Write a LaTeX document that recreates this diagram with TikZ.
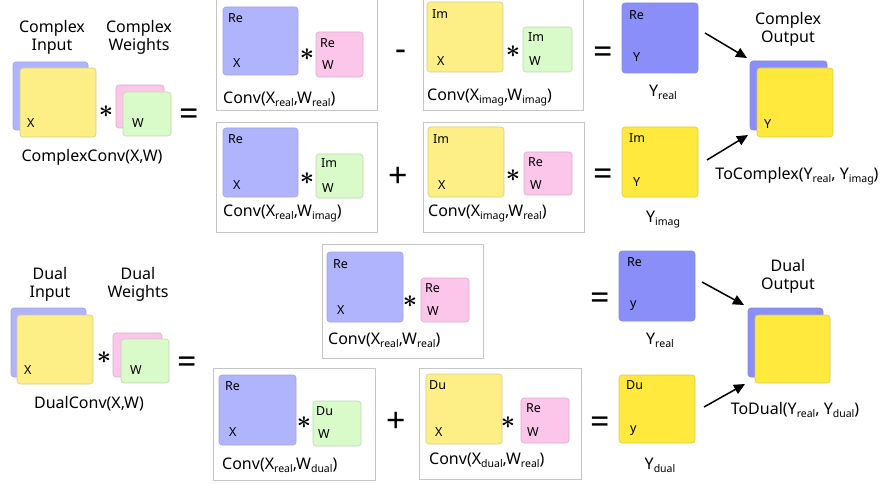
\documentclass[tikz,border=0pt]{standalone}
\usepackage{fontspec}
\usepackage{amsmath}
\setmainfont{Noto Sans}
\usetikzlibrary{arrows.meta,calc}

\definecolor{inblue}{HTML}{B0B4FC}
\definecolor{outblue}{HTML}{8A8EF8}
\definecolor{inyel}{HTML}{FDEE86}
\definecolor{outyel}{HTML}{FEE93C}
\definecolor{wpink}{HTML}{FCC5EA}
\definecolor{wgreen}{HTML}{D9FBC9}

% bold lowered subscript used in the captions
\newcommand\sbf[1]{\raisebox{-3pt}{\fontsize{10.5}{10.5}\selectfont\bfseries #1}}
\newcommand\convstar{$\boldsymbol{\ast}$}

\begin{document}
\begin{tikzpicture}[x=1pt,y=-1pt,
  tile/.style={rectangle, rounded corners=3pt, anchor=north west, inner sep=0pt,
               outer sep=0pt, line width=0.6pt, fill=#1, draw=#1!70!gray},
  frame/.style={rectangle, anchor=north west, inner sep=0pt, draw=gray!45, line width=0.7pt},
  head/.style={align=center, inner sep=0pt, font=\fontsize{16}{18}\selectfont},
  captxt/.style={inner sep=0pt, font=\fontsize{16}{18}\selectfont},
  tt/.style={inner sep=0pt, anchor=west, font=\fontsize{12.5}{13}\selectfont},
  oper/.style={inner sep=0pt, font=\fontsize{34}{34}\selectfont\bfseries},
  startxt/.style={inner sep=0pt, font=\fontsize{24}{24}\selectfont},
  arr/.style={line width=1.5pt, -{Triangle[length=11pt,width=10pt]}}
]
\useasboundingbox (0,0) rectangle (881,484);

% ================= complex convolution =================
\node[head] (hcin) at (52,37) {Complex\\Input};
\node[head] (hcw) at (139,37) {Complex\\Weights};
\node[tile=inblue, minimum width=75pt, minimum height=68pt] (cinb) at (13,62) {};
\node[tile=inyel, minimum width=76pt, minimum height=69pt] (ciny) at (20,68) {};
\node[tt] (cinx) at ($(ciny.south west)+(7,-14)$) {X};
\node[startxt] (cs0) at (106,112) {\convstar};
\node[tile=wpink, minimum width=48pt, minimum height=43pt] (cwp) at (116,85) {};
\node[tile=wgreen, minimum width=48pt, minimum height=44pt] (cwg) at (123,92) {};
\node[tt] (cwx) at ($(cwg.south west)+(9,-13)$) {W};
\node[oper] (ceq0) at (189,117) {=};
\node[captxt] (ccap) at (92,157) {ComplexConv(X,W)};

% Conv(Xreal, Wreal)
\node[frame, minimum width=161pt, minimum height=111pt] (fA) at (216,-1) {};
\node[tile=inblue, minimum width=75pt, minimum height=68pt] (tA1) at (223,7) {};
\node[tt] at ($(tA1.north west)+(5,11)$) {Re};
\node[tt] at ($(tA1.south west)+(10,-12)$) {X};
\node[startxt] (sA) at (307,55) {\convstar};
\node[tile=wpink, minimum width=47pt, minimum height=45pt] (tA2) at (316,32) {};
\node[tt] at ($(tA2.north west)+(4,11)$) {Re};
\node[tt] at ($(tA2.south west)+(6,-12)$) {W};
\node[captxt, anchor=west] (cA) at (223,99) {Conv(X\sbf{real},W\sbf{real})};
\node[oper] (mA) at (401,55) {-};

% Conv(Ximag, Wimag)
\node[frame, minimum width=160pt, minimum height=111pt] (fB) at (423,-1) {};
\node[tile=inyel, minimum width=76pt, minimum height=70pt] (tB1) at (427,2) {};
\node[tt] at ($(tB1.north west)+(5,12)$) {Im};
\node[tt] at ($(tB1.south west)+(10,-11)$) {X};
\node[startxt] (sB) at (513,52) {\convstar};
\node[tile=wgreen, minimum width=49pt, minimum height=45pt] (tB2) at (523,27) {};
\node[tt] at ($(tB2.north west)+(5,10)$) {Im};
\node[tt] at ($(tB2.south west)+(6,-11)$) {W};
\node[captxt, anchor=west] (cB) at (427,97) {Conv(X\sbf{imag},W\sbf{imag})};
\node[oper] (eA) at (603,55) {=};

% real output
\node[tile=outblue, minimum width=76pt, minimum height=70pt] (yr1) at (622,3) {};
\node[tt] at ($(yr1.north west)+(7,12)$) {Re};
\node[tt] at ($(yr1.south west)+(11,-16)$) {Y};
\node[captxt] (lyr1) at (663,92) {Y\sbf{real}};

% Conv(Xreal, Wimag)
\node[frame, minimum width=161pt, minimum height=110pt] (fC) at (216,122) {};
\node[tile=inblue, minimum width=75pt, minimum height=69pt] (tC1) at (223,128) {};
\node[tt] at ($(tC1.north west)+(5,11)$) {Re};
\node[tt] at ($(tC1.south west)+(10,-12)$) {X};
\node[startxt] (sC) at (307,179) {\convstar};
\node[tile=wgreen, minimum width=47pt, minimum height=44pt] (tC2) at (316,154) {};
\node[tt] at ($(tC2.north west)+(5,9)$) {Im};
\node[tt] at ($(tC2.south west)+(6,-10)$) {W};
\node[captxt, anchor=west] (cC) at (223,213) {Conv(X\sbf{real},W\sbf{imag})};
\node[oper] (pC) at (398,177) {+};

% Conv(Ximag, Wreal)
\node[frame, minimum width=161pt, minimum height=110pt] (fD) at (423,122) {};
\node[tile=inyel, minimum width=76pt, minimum height=70pt] (tD1) at (428,127) {};
\node[tt] at ($(tD1.north west)+(5,12)$) {Im};
\node[tt] at ($(tD1.south west)+(10,-12)$) {X};
\node[startxt] (sD) at (513,176) {\convstar};
\node[tile=wpink, minimum width=48pt, minimum height=43pt] (tD2) at (524,152) {};
\node[tt] at ($(tD2.north west)+(4,10)$) {Re};
\node[tt] at ($(tD2.south west)+(6,-10)$) {W};
\node[captxt, anchor=west] (cD) at (428,213) {Conv(X\sbf{imag},W\sbf{real})};
\node[oper] (eB) at (603,177) {=};

% imaginary output
\node[tile=outyel, minimum width=76pt, minimum height=70pt] (yi1) at (622,127) {};
\node[tt] at ($(yi1.north west)+(7,11)$) {Im};
\node[tt] at ($(yi1.south west)+(11,-15)$) {Y};
\node[captxt] (lyi1) at (663,220) {Y\sbf{imag}};

% complex output stack
\node[head] (hcout) at (788,29) {Complex\\Output};
\node[tile=outblue, minimum width=77pt, minimum height=69pt] (coutb) at (750,61) {};
\node[tile=outyel, minimum width=76pt, minimum height=69pt] (couty) at (757,68) {};
\node[tt] at ($(couty.south west)+(7,-13)$) {Y};
\node[captxt] (ctoc) at (797,176) {ToComplex(Y\sbf{real}, Y\sbf{imag})};

\coordinate (a1s) at (705,33);
\coordinate (a1e) at (747,58);
\coordinate (a2s) at (707,160);
\coordinate (a2e) at (748,135);
\draw[arr] (a1s) -- (a1e);
\draw[arr] (a2s) -- (a2e);

% ================= dual convolution =================
\node[head] (hdin) at (50,284) {Dual\\Input};
\node[head] (hdw) at (138,284) {Dual\\Weights};
\node[tile=inblue, minimum width=75pt, minimum height=69pt] (dinb) at (11,308) {};
\node[tile=inyel, minimum width=76pt, minimum height=69pt] (diny) at (17,315) {};
\node[tt] (dinx) at ($(diny.south west)+(7,-14)$) {X};
\node[startxt] (ds0) at (104,358) {\convstar};
\node[tile=wpink, minimum width=49pt, minimum height=44pt] (dwp) at (113,333) {};
\node[tile=wgreen, minimum width=48pt, minimum height=44pt] (dwg) at (121,339) {};
\node[tt] (dwx) at ($(dwg.south west)+(9,-13)$) {W};
\node[oper] (deq0) at (187,365) {=};
\node[captxt] (dcap) at (89,404) {DualConv(X,W)};

% Conv(Xreal, Wreal)
\node[frame, minimum width=161pt, minimum height=114pt] (fE) at (322,244) {};
\node[tile=inblue, minimum width=76pt, minimum height=70pt] (tE1) at (327,252) {};
\node[tt] at ($(tE1.north west)+(6,12)$) {Re};
\node[tt] at ($(tE1.south west)+(10,-12)$) {X};
\node[startxt] (sE) at (410,302) {\convstar};
\node[tile=wpink, minimum width=48pt, minimum height=44pt] (tE2) at (421,278) {};
\node[tt] at ($(tE2.north west)+(4,10)$) {Re};
\node[tt] at ($(tE2.south west)+(6,-11)$) {W};
\node[captxt, anchor=west] (cE) at (328,340) {Conv(X\sbf{real},W\sbf{real})};
\node[oper] (eE) at (600,301) {=};

% real output
\node[tile=outblue, minimum width=76pt, minimum height=70pt] (yr2) at (619,251) {};
\node[tt] at ($(yr2.north west)+(8,11)$) {Re};
\node[tt] at ($(yr2.south west)+(11,-15)$) {y};
\node[captxt] (lyr2) at (660,340) {Y\sbf{real}};

% Conv(Xreal, Wdual)
\node[frame, minimum width=162pt, minimum height=112pt] (fF) at (213,368) {};
\node[tile=inblue, minimum width=77pt, minimum height=70pt] (tF1) at (219,375) {};
\node[tt] at ($(tF1.north west)+(6,11)$) {Re};
\node[tt] at ($(tF1.south west)+(10,-13)$) {X};
\node[startxt] (sF) at (304,423) {\convstar};
\node[tile=wgreen, minimum width=48pt, minimum height=45pt] (tF2) at (313,401) {};
\node[tt] at ($(tF2.north west)+(3,10)$) {Du};
\node[tt] at ($(tF2.south west)+(5,-12)$) {W};
\node[captxt, anchor=west] (cF) at (222,465) {Conv(X\sbf{real},W\sbf{dual})};
\node[oper] (pF) at (396,422) {+};

% Conv(Xdual, Wreal)
\node[frame, minimum width=162pt, minimum height=111pt] (fG) at (419,368) {};
\node[tile=inyel, minimum width=76pt, minimum height=70pt] (tG1) at (426,374) {};
\node[tt] at ($(tG1.north west)+(3,11)$) {Du};
\node[tt] at ($(tG1.south west)+(9,-12)$) {X};
\node[startxt] (sG) at (508,423) {\convstar};
\node[tile=wpink, minimum width=48pt, minimum height=45pt] (tG2) at (521,398) {};
\node[tt] at ($(tG2.north west)+(5,10)$) {Re};
\node[tt] at ($(tG2.south west)+(6,-11)$) {W};
\node[captxt, anchor=west] (cG) at (429,460) {Conv(X\sbf{dual},W\sbf{real})};
\node[oper] (eG) at (600,425) {=};

% dual output
\node[tile=outyel, minimum width=76pt, minimum height=68pt] (yd2) at (619,375) {};
\node[tt] at ($(yd2.north west)+(7,10)$) {Du};
\node[tt] at ($(yd2.south west)+(11,-12)$) {y};
\node[captxt] (lyd2) at (660,465) {Y\sbf{dual}};

% dual output stack
\node[head] (hdout) at (788,276) {Dual\\Output};
\node[tile=outblue, minimum width=75pt, minimum height=69pt] (doutb) at (748,308) {};
\node[tile=outyel, minimum width=75pt, minimum height=68pt] (douty) at (755,315) {};
\node[captxt] (dtod) at (795,410) {ToDual(Y\sbf{real}, Y\sbf{dual})};

\coordinate (a3s) at (702,282);
\coordinate (a3e) at (744,305);
\coordinate (a4s) at (704,407);
\coordinate (a4e) at (745,384);
\draw[arr] (a3s) -- (a3e);
\draw[arr] (a4s) -- (a4e);
\end{tikzpicture}
\end{document}
